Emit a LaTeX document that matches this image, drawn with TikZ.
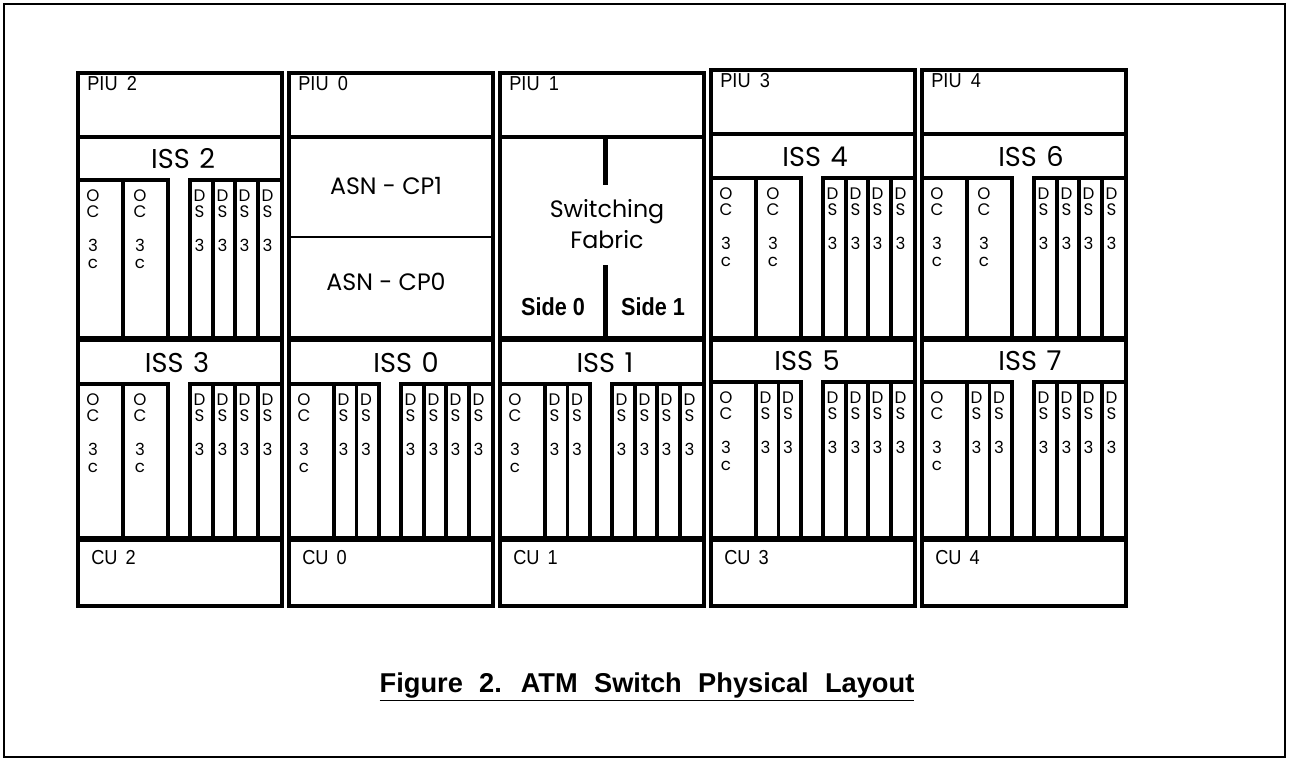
\documentclass[tikz,border=0pt]{standalone}
\usepackage{fontspec}
\setmainfont{Liberation Sans}
\newfontfamily\gothicfont{Poppins}
\newfontfamily\narrowfont[FakeStretch=0.9]{Liberation Sans}
\newfontfamily\sidefont[FakeStretch=0.88]{Liberation Sans Bold}

\begin{document}
\begin{tikzpicture}[x=0.02cm, y=-0.02cm,
    frame/.style={line width=1.6pt},
    cab/.style={line width=2.8pt},
    mid/.style={line width=3.6pt},
    card/.style={line width=1.8pt},
    bar/.style={line width=2.3pt},
    split/.style={line width=1pt},
    unit/.style={font=\narrowfont\fontsize{11.5}{13}\selectfont, anchor=base west, inner sep=0pt},
    isslbl/.style={font=\gothicfont\fontsize{15.5}{18}\selectfont, inner sep=0pt},
    asnlbl/.style={font=\gothicfont\fontsize{13.5}{18}\selectfont, align=center, inner sep=0pt},
    slotlbl/.style={font=\gothicfont\fontsize{9.5}{9}\selectfont, align=center, inner sep=0pt},
    ratelbl/.style={font=\gothicfont\fontsize{9.5}{9.5}\selectfont, align=center, inner sep=0pt},
    sidelbl/.style={font=\sidefont\fontsize{14}{16}\selectfont, inner sep=0pt},
    caption/.style={font=\bfseries\fontsize{15.5}{18}\selectfont, inner sep=0pt}
]
    \useasboundingbox (0,0) rectangle (1289,761);
    \draw[frame] (4,4) rectangle (1285,757);

    % cabinets: PIU on top, CU at the bottom
    \foreach \x/\t/\p in {78/73/2, 289/73/0, 500/73/1, 711/70/3, 922/70/4} {
        \node[unit] (piu\p) at (\x+9,\t+17) {PIU\hspace{0.45em}\p};
        \node[unit] (cu\p) at (\x+13,564) {CU\hspace{0.4em}\p};
        \draw[cab] (\x,\t) rectangle (\x+204,606);
        \draw[cab] (\x,\t+64) -- (\x+204,\t+64);
        \draw[mid] (\x,339) -- (\x+204,339);
        \draw[mid] (\x,539) -- (\x+204,539);
    }

    % ISS shelves (kind 1: two OC3c, kind 2: one OC3c + two DS3)
    \foreach \x/\ct/\cb/\k/\n/\o in {78/180/339/1/2/105, 711/178/339/1/4/104, 922/178/339/1/6/109,
        78/384/539/1/3/99, 289/384/539/2/0/117, 500/384/539/2/1/105, 711/382/539/2/5/96, 922/382/539/2/7/108} {
        \node[isslbl] (iss\n) at (\x+\o,\ct-21.5) {ISS\hspace{0.35em}\n};
        \draw[card] (\x,\ct) -- (\x+90,\ct) -- (\x+90,\cb);
        \draw[card] (\x+112,\cb) -- (\x+112,\ct) -- (\x+204,\ct);
        \foreach \d in {45,135,157,180}
            \draw[card] (\x+\d,\ct) -- (\x+\d,\cb);
        \node[slotlbl] (oc\n) at (\x+15,\ct+24) {O\\C};
        \node[ratelbl] (ocr\n) at (\x+15,\ct+74) {3\\c};
        \foreach \d [count=\i] in {112,135,157,180} {
            \node[slotlbl] (ds\n\i) at (\x+\d+9.5,\ct+24) {D\\S};
            \node[slotlbl] (dsr\n\i) at (\x+\d+9.5,\ct+65) {3};
        }
        \ifnum\k=1
            \node[slotlbl] (ocb\n) at (\x+62,\ct+24) {O\\C};
            \node[ratelbl] (ocbr\n) at (\x+62,\ct+74) {3\\c};
        \else
            \draw[card] (\x+67.5,\ct) -- (\x+67.5,\cb);
            \foreach \d [count=\i] in {45,67.5} {
                \node[slotlbl] (dsl\n\i) at (\x+\d+9.5,\ct+24) {D\\S};
                \node[slotlbl] (dslr\n\i) at (\x+\d+9.5,\ct+65) {3};
            }
        \fi
    }

    % ASN control processors
    \draw[split] (289,237) -- (493,237);
    \node[asnlbl] (cp1) at (386,186) {ASN - CP1};
    \node[asnlbl] (cp0) at (386,282) {ASN - CP0};

    % switching fabric
    \draw[bar] (605.5,137) -- (605.5,185);
    \draw[bar] (605.5,265) -- (605.5,339);
    \node[asnlbl] (fabric) at (607,224) {Switching\\Fabric};
    \node[sidelbl] (side0) at (553,307) {Side 0};
    \node[sidelbl] (side1) at (653,307) {Side 1};

    \node[caption] (title) at (647,687) {\spaceskip=0.6em\relax\underline{Figure 2. ATM Switch Physical Layout}};
\end{tikzpicture}
\end{document}
